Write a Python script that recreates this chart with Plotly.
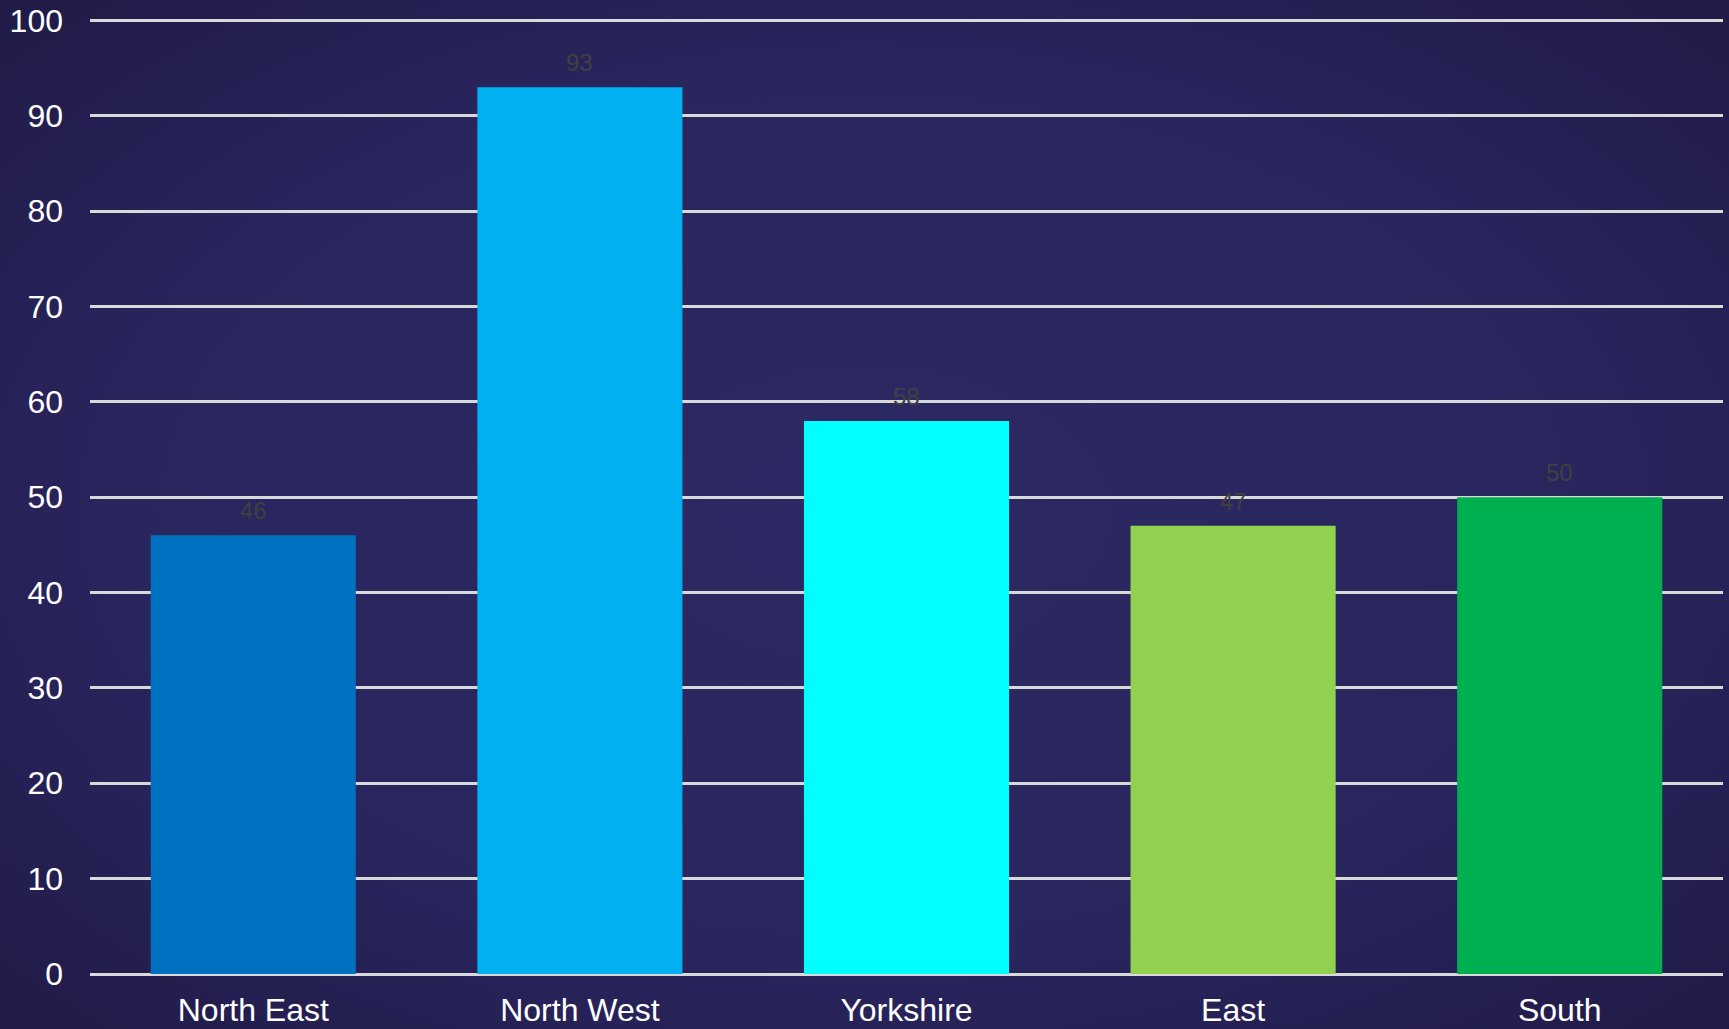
import base64
import plotly.graph_objects as go

# Regional values
regions = ["North East", "North West", "Yorkshire", "East", "South"]
values = [46, 93, 58, 47, 50]
bar_colors = ["#0070C0", "#00B0F0", "#00FFFF", "#92D050", "#00B050"]
y_ticks = [0, 10, 20, 30, 40, 50, 60, 70, 80, 90, 100]

W, H = 1729, 1029
M = dict(l=90, r=6, t=18, b=55)
plot_w = W - M["l"] - M["r"]
plot_h = H - M["t"] - M["b"]

# Soft radial vignette for the background
svg = (
    '<svg xmlns="http://www.w3.org/2000/svg" width="1729" height="1029" '
    'viewBox="0 0 100 100" preserveAspectRatio="none">'
    '<defs><radialGradient id="g" cx="50%" cy="50%" r="72%">'
    '<stop offset="0%" stop-color="#2c2964"/>'
    '<stop offset="60%" stop-color="#29255d"/>'
    '<stop offset="100%" stop-color="#1f1a45"/>'
    '</radialGradient></defs>'
    '<rect x="0" y="0" width="100" height="100" fill="url(#g)"/></svg>'
)
bg_src = "data:image/svg+xml;base64," + base64.b64encode(svg.encode()).decode()

fig = go.Figure(
    go.Bar(
        x=regions,
        y=values,
        marker=dict(color=bar_colors, line=dict(width=0)),
        width=0.628,
        hoverinfo="x+y",
    )
)

# Value labels above each bar
for r, v in zip(regions, values):
    fig.add_annotation(
        x=r, y=v, text=str(v), showarrow=False,
        yanchor="bottom", yshift=9,
        font=dict(family="Liberation Sans, Arial", size=24, color="#404040"),
    )

# Background image slightly oversized so no paper edge peeks through
pad = 4
fig.add_layout_image(
    source=bg_src, xref="paper", yref="paper",
    x=-(M["l"] + pad) / plot_w, y=1 + (M["t"] + pad) / plot_h,
    sizex=(W + 2 * pad) / plot_w, sizey=(H + 2 * pad) / plot_h,
    xanchor="left", yanchor="top", sizing="stretch", layer="below",
)

fig.update_layout(
    width=W, height=H,
    margin=M,
    paper_bgcolor="#231e4d",
    plot_bgcolor="rgba(0,0,0,0)",
    showlegend=False,
    bargap=0.372,
    font=dict(family="Liberation Sans, Arial", color="white", size=32),
)
fig.update_xaxes(
    showgrid=False, showline=False, ticks="", automargin=False,
    tickfont=dict(size=32, color="white"),
    ticklabelstandoff=14,
)
fig.update_yaxes(
    range=[0, 100.25], tickvals=y_ticks, automargin=False,
    showgrid=True, gridcolor="#d9d9d9", gridwidth=2.5,
    zeroline=True, zerolinecolor="#d9d9d9", zerolinewidth=2.5,
    showline=False, ticks="",
    tickfont=dict(size=32, color="white"),
    ticklabelstandoff=26,
)

fig.write_html("out.html", config={"displayModeBar": False})
